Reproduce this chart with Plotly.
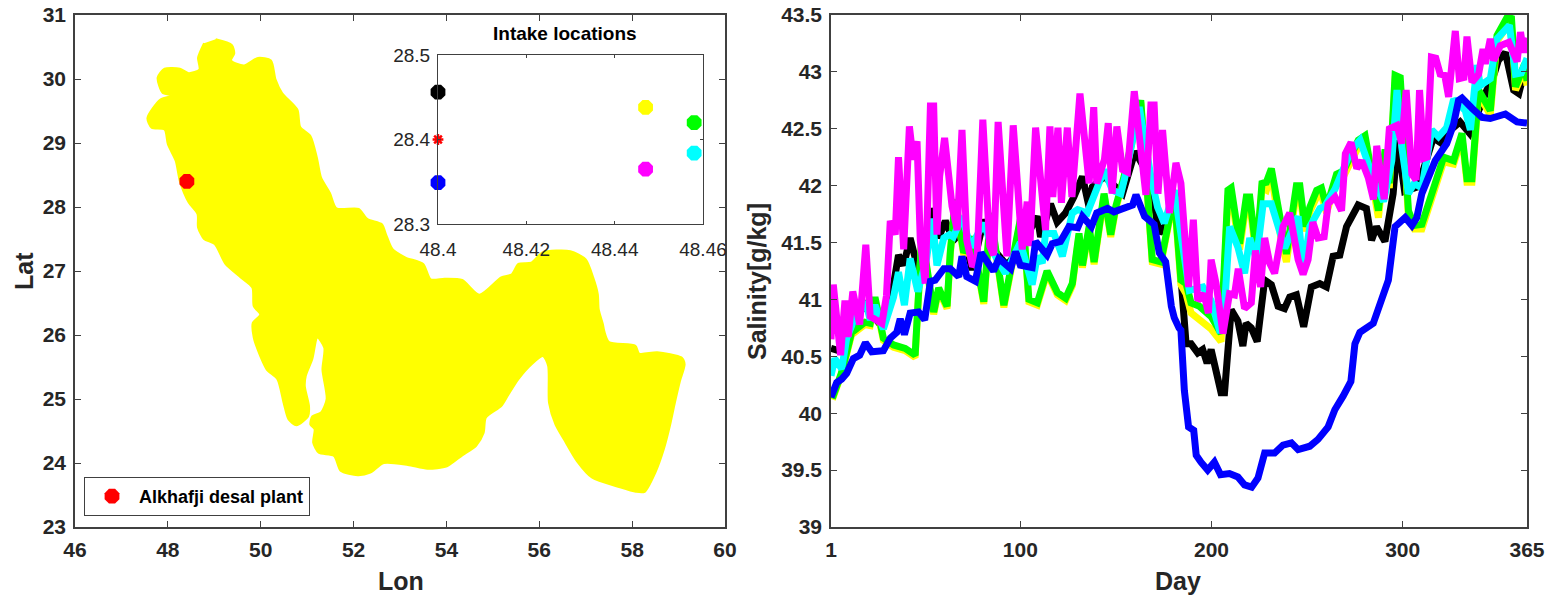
import plotly.graph_objects as go

W, H = 1549, 595

# --- Gulf outline (Lon, Lat)
gulf_lon = [49.03,49.38,49.43,49.36,49.64,49.94,50.22,50.32,50.46,50.79,50.85,51.07,51.21,51.30,51.49,51.63,52.11,52.30,52.61,52.70,52.84,53.12,53.50,53.66,53.96,54.34,54.71,55.18,55.41,55.55,55.83,56.07,56.67,57.00,57.16,57.26,57.28,57.37,57.40,57.50,58.07,58.15,58.54,59.06,59.13,59.03,58.92,58.82,58.68,58.50,58.27,58.08,57.70,57.14,56.81,56.53,56.35,56.21,56.19,56.08,55.83,55.55,55.32,55.18,54.85,54.80,54.64,54.34,54.01,53.59,53.17,52.65,52.36,52.09,51.72,51.58,51.25,51.13,51.16,51.07,51.11,51.30,51.42,51.33,51.37,51.22,51.11,50.97,50.95,51.04,51.02,50.77,50.60,50.50,50.36,50.13,49.99,49.85,49.83,49.99,49.85,49.82,49.57,49.24,49.01,48.78,48.65,48.64,48.45,48.26,48.17,48.00,47.93,47.65,47.56,47.84,48.12,47.89,47.78,47.93,48.26,48.45,48.68,48.65,48.78]
gulf_lat = [30.62,30.53,30.40,30.29,30.21,30.33,30.29,29.99,29.78,29.52,29.25,29.11,28.77,28.46,28.22,27.98,27.97,27.81,27.73,27.57,27.34,27.21,27.11,26.87,26.88,26.86,26.63,26.90,26.95,27.11,27.13,27.29,27.31,27.18,26.90,26.64,26.40,26.17,26.06,25.89,25.83,25.71,25.73,25.65,25.54,25.28,24.94,24.60,24.21,23.85,23.55,23.55,23.63,23.77,24.03,24.37,24.60,24.94,25.52,25.67,25.54,25.31,25.05,24.89,24.71,24.47,24.27,24.12,23.95,23.91,23.97,24.00,23.85,23.81,23.88,24.11,24.16,24.32,24.53,24.60,24.73,24.79,25.00,25.46,25.80,25.96,25.62,25.36,25.20,24.89,24.73,24.59,24.68,24.92,25.31,25.46,25.67,25.96,26.19,26.32,26.45,26.74,26.90,27.11,27.42,27.50,27.68,27.89,28.07,28.40,28.72,28.98,29.21,29.24,29.39,29.68,29.74,29.78,30.02,30.16,30.16,30.09,30.15,30.33,30.56]

plant_lon = [48.41]
plant_lat = [28.40]

# --- Inset: intake locations
intake_lon = [48.400, 48.447, 48.458, 48.458, 48.447, 48.400]
intake_lat = [28.456, 28.438, 28.420, 28.384, 28.365, 28.349]
intake_col = ["#000000", "#ffff00", "#00ff00", "#00ffff", "#ff00ff", "#0000ff"]
outfall_lon = [48.40]
outfall_lat = [28.40]

# --- Salinity series
blue_day = [1,4,6.6,9.2,12.7,16,19,22.3,28.4,32,35.4,37.2,39.4,42.4,46.8,50,53,55.5,60,63.4,67.8,69.5,72,76.5,79.5,86,88.8,95,97.5,100,106.2,108,114,116.7,121,125.5,130,132.5,137.2,140,145.6,149,158.7,160.5,165,170,172.7,176,179,180.5,183,184,185.8,188,190.7,192,194.5,198,201.5,204.7,209.4,213.8,217.3,221,224.3,227.8,233,237.4,241.8,245.3,251.4,255.7,261,264.5,268.8,272.9,275,277.6,284.6,287.2,292.5,296,298.6,301.3,304.8,307.4,310,317,323,326.6,329.2,331,336.2,341.5,345.8,353.7,359.8,365]
blue_val = [40.14,40.27,40.30,40.35,40.48,40.51,40.62,40.54,40.55,40.66,40.71,40.83,40.69,40.88,40.89,40.82,41.16,41.17,41.27,41.27,41.20,41.38,41.20,41.16,41.41,41.25,41.36,41.27,41.42,41.30,41.28,41.51,41.39,41.49,41.51,41.64,41.63,41.73,41.64,41.76,41.80,41.77,41.83,41.92,41.73,41.66,41.41,41.33,40.94,40.84,40.75,40.73,40.20,39.88,39.85,39.63,39.57,39.50,39.57,39.46,39.47,39.44,39.37,39.35,39.43,39.65,39.65,39.72,39.74,39.68,39.71,39.77,39.88,40.03,40.15,40.28,40.61,40.71,40.79,40.92,41.17,41.64,41.68,41.72,41.65,41.72,41.93,42.22,42.37,42.54,42.75,42.77,42.68,42.60,42.59,42.63,42.56,42.55]

magenta_day = [1,2.2,6,8.3,10,12.4,16,19.2,21.5,27.6,30,32,34.6,36.3,39,42,44,46,47.7,50.3,53,54.7,56.4,57.8,60.4,64.3,67,69.5,72,75,77.4,80.4,84,86.1,88.4,93,96.3,101,103.6,105,108,113.2,115.5,117,119.7,121.5,124.6,127,131.2,133.3,136,138.4,140,144,146,148,150.5,153.5,156,159.6,164,165.7,168.3,170,172,174.4,178,181.4,184,188,190.5,192.8,196,198.4,199.8,202.4,206,209.4,212,214,217.3,220.8,223,225.7,227.8,230.4,233,237.4,240.9,245.3,247.9,250.5,253,255.7,258.9,261,264.6,268,270,273,276,278.6,282,284.7,286.4,290.3,293,297,299.5,301.8,304.8,307,308.8,311,312.6,315,317.3,319.6,322,324,327.5,329.6,332,333.6,336.2,339.7,342,343.2,345.8,347.6,351,355.5,359.8,361.6,363.3,365]
magenta_val = [40.65,41.13,40.51,40.99,40.67,41.07,40.78,41.48,40.85,40.79,41.03,41.69,41.57,42.25,41.44,42.52,42.23,42.39,41.52,41.14,42.70,42.70,41.57,42.08,42.42,41.82,41.61,42.49,41.52,41.29,41.35,42.58,41.47,41.39,42.56,41.38,42.53,41.44,41.86,41.47,42.51,41.61,42.52,41.90,42.51,41.85,42.51,41.90,42.81,42.40,42.02,42.69,42.02,42.23,42.55,41.93,42.52,42.14,42.12,42.83,42.17,41.92,42.71,42.71,41.93,42.49,41.76,42.20,42.02,41.11,41.70,40.99,41.05,40.88,41.35,41.14,40.70,41.05,41.04,41.27,40.92,40.97,41.43,41.11,41.54,41.32,41.23,41.64,41.76,41.35,41.22,41.35,41.68,41.54,41.55,41.84,41.90,41.78,42.28,42.38,42.15,42.22,42.07,41.88,42.35,41.88,42.50,42.53,42.37,42.84,42.10,42.05,42.84,42.24,42.25,43.13,43.12,42.98,42.97,42.78,43.36,42.94,42.95,43.31,42.91,42.98,43.20,43.07,43.29,43.10,43.23,43.26,43.09,43.35,43.17,43.30]

black_day = [1,5,9,14,19,24,28,33.7,36.3,39,42.4,46,50,53.4,57.3,60.8,65,70,74.8,80.9,87,93,100,108.9,110.6,115.8,119.3,123.7,128,132.5,136,137.7,144,153.5,160,167.4,172.7,179.7,181.4,184,186.7,189.3,191,192.8,195.4,197.7,199.8,202.4,205,206.8,210.3,213.8,216.4,218.1,220.8,223.9,227.8,231.3,234.8,238.2,240.9,244.4,248.2,252.2,256.6,260.1,263.6,267.1,270.6,276.7,281,283.7,286.3,290.7,295,297.3,301,308,316,319.6,323,330,335,344,346.7,350,353.7,358,360.7,362.4,365]
black_val = [40.57,40.55,40.60,40.85,40.95,40.83,40.75,41.13,41.39,41.30,41.54,41.30,41.36,41.80,41.54,41.69,41.52,41.60,41.26,41.70,41.42,41.30,41.45,41.73,41.55,41.84,41.68,41.76,41.90,42.08,41.81,41.99,42.08,41.93,42.30,42.08,41.58,41.73,41.96,41.20,40.61,40.61,40.58,40.53,40.56,40.44,40.56,40.38,40.18,40.18,40.91,40.81,40.59,40.79,40.75,40.63,41.17,41.13,40.94,40.92,41.02,41.04,40.76,41.11,41.14,41.11,41.38,41.39,41.64,41.83,41.80,41.52,41.64,41.51,41.93,42.40,41.95,41.99,42.42,42.38,42.46,42.56,42.46,42.84,42.92,43.10,43.17,42.84,42.81,42.92,42.95]

cyan_day = [1,3,6.6,9.2,13,19,21.5,24,28.4,32,33.7,36.3,39.4,42.4,46.4,51,54,56.4,60,63,65,69.5,74,80.9,87,92.2,100,106.2,108.9,111.5,113.2,117.6,122,127.2,130,135,137.7,143.9,148.2,152.6,155.2,162.2,168.3,171.8,175.3,180.6,188.4,195.5,199.8,204.2,206,209.5,213.8,217.3,220,223.5,227,231.3,238.3,245.3,248,251.4,256.7,259.3,264.6,269,273,277.7,283,285.5,290,294.3,297,299.5,303,306,310,312.6,315.2,318.7,323,326.6,332.7,335.4,338.8,340.6,345.8,349.3,355.8,359,362,365]
cyan_val = [40.33,40.48,40.39,40.66,40.82,40.98,40.82,40.95,40.74,40.92,41.02,41.24,40.95,41.36,41.07,41.36,41.71,41.30,41.54,41.57,41.55,41.73,41.46,41.67,41.38,41.23,41.50,41.13,41.38,41.32,41.58,41.58,41.38,41.76,41.79,41.76,41.87,42.14,41.96,41.93,42.11,42.69,42.08,41.81,41.67,41.96,41.08,41.11,40.99,40.73,40.73,41.64,41.46,41.23,41.54,41.35,41.84,41.84,41.45,41.73,41.26,41.64,41.80,41.82,41.97,42.15,42.31,42.40,42.15,42.02,41.86,42.22,42.84,42.34,41.93,42.02,41.98,42.22,42.49,42.43,42.51,42.76,42.66,42.49,43.06,42.88,42.94,43.29,43.41,42.98,42.99,43.12]

green_day = [1.7,6.6,11.8,18.8,21.5,24,28.4,33.7,39.8,45,48.5,54.7,57.3,61.7,63.4,66,70.4,74.8,80.9,84.4,91.4,101,104.5,108.9,114,119.4,123.7,127.2,130.7,132.5,136,138.6,143.8,147.3,150,154.3,163,169,173.5,180.5,184,186.7,189.3,193.7,199.8,205,208.6,210.3,214.7,218.2,220,223.5,226.4,228.7,231.3,236.6,239.2,244.4,246.2,248.8,251.4,255,257.5,260.2,265.4,269,276.8,280.3,284.7,287.3,290.8,293,296,298.7,303,306,310,317,321.4,326.6,331,333.6,336.2,339.7,345.8,349.3,354.6,356.9,359,363.8,365]
green_val = [40.13,40.36,40.71,40.80,40.79,41.02,40.66,40.60,40.57,40.51,41.57,40.89,41.10,40.94,41.42,41.88,41.41,41.55,40.98,41.76,40.95,41.79,41.00,40.97,41.25,41.06,41.01,41.14,41.58,41.30,41.64,41.33,41.93,41.57,41.82,42.08,42.75,41.35,41.33,41.93,41.17,41.14,40.97,40.94,40.85,40.70,41.96,41.98,41.49,41.90,41.90,41.40,42.02,42.03,42.15,41.58,41.40,42.00,42.00,41.64,41.81,41.96,41.98,41.81,42.10,42.13,42.40,42.44,42.07,41.78,42.32,42.02,42.97,42.95,41.78,41.65,41.66,42.00,42.25,42.22,42.46,42.06,42.06,42.84,42.66,43.32,43.48,43.47,42.87,43.07,42.92]

yellow_day = green_day
yellow_val = [40.12,40.35,40.69,40.78,40.77,41.00,40.64,40.58,40.55,40.49,41.55,40.87,41.08,40.92,41.40,41.86,41.39,41.53,40.96,41.74,40.93,41.77,40.98,40.95,41.23,41.04,40.99,41.12,41.56,41.28,41.62,41.31,41.91,41.55,41.80,42.06,42.73,41.33,41.31,41.91,41.13,41.05,40.88,40.82,40.74,40.63,41.90,41.92,41.44,41.84,41.84,41.36,41.98,41.96,42.11,41.50,41.33,41.94,41.94,41.60,41.77,41.90,41.92,41.76,42.06,42.08,42.34,42.38,42.01,41.72,42.26,41.98,42.92,42.90,41.72,41.62,41.62,41.96,42.21,42.19,42.42,42.03,42.03,42.80,42.62,43.27,43.40,43.40,42.84,43.03,42.88]

series = [
    ("#000000", black_day, black_val),
    ("#ffff00", yellow_day, yellow_val),
    ("#00ff00", green_day, green_val),
    ("#00ffff", cyan_day, cyan_val),
    ("#ff00ff", magenta_day, magenta_val),
    ("#0000ff", blue_day, blue_val),
]

day_ticks = [1, 100, 200, 300, 365]
sal_ticks = [39, 39.5, 40, 40.5, 41, 41.5, 42, 42.5, 43, 43.5]
lon_ticks = [46, 48, 50, 52, 54, 56, 58, 60]
lat_ticks = [23, 24, 25, 26, 27, 28, 29, 30, 31]

FONT = "Liberation Sans"
INK = "#262626"
AX = "#404040"


def fx(px):
    return px / W


def fy(px):
    return 1 - px / H


def axis(**kw):
    base = dict(showgrid=False, zeroline=False, showline=True, linecolor=AX, linewidth=1.5,
                mirror="allticks", ticks="inside", ticklen=6, tickwidth=1, tickcolor=AX,
                automargin=False, ticklabelstandoff=3,
                tickfont=dict(family=FONT, size=21, color=INK, weight="bold"))
    base.update(kw)
    return base


def label(text, x, y, angle=0, size=25, color=INK):
    return dict(text="<b>%s</b>" % text, x=fx(x), y=fy(y), xref="paper", yref="paper",
                xanchor="center", yanchor="middle", showarrow=False, textangle=angle,
                font=dict(family=FONT, size=size, color=color))


fig = go.Figure()

fig.add_trace(go.Scatter(x=gulf_lon, y=gulf_lat, mode="lines", fill="toself", fillcolor="#ffff00",
                         line=dict(color="#ffff00", width=2, shape="spline", smoothing=0.7),
                         showlegend=False, hoverinfo="skip", xaxis="x", yaxis="y"))
fig.add_trace(go.Scatter(x=plant_lon, y=plant_lat, mode="markers", name="Alkhafji desal plant",
                         marker=dict(symbol="octagon", size=16, color="#ff0000"), xaxis="x", yaxis="y"))

for lon, lat, col in zip(intake_lon, intake_lat, intake_col):
    fig.add_trace(go.Scatter(x=[lon], y=[lat], mode="markers", showlegend=False, cliponaxis=False,
                             marker=dict(symbol="octagon", size=16, color=col), xaxis="x3", yaxis="y3"))
fig.add_trace(go.Scatter(x=outfall_lon, y=outfall_lat, mode="markers", showlegend=False, cliponaxis=False,
                         marker=dict(symbol="asterisk", size=9, line=dict(color="#ff0000", width=2.5)),
                         xaxis="x3", yaxis="y3"))

for col, d, v in series:
    fig.add_trace(go.Scatter(x=d, y=v, mode="lines", showlegend=False,
                             line=dict(color=col, width=7), xaxis="x2", yaxis="y2"))

inset_font = dict(family=FONT, size=19, color=INK)

fig.update_layout(
    width=W, height=H, autosize=False,
    margin=dict(l=0, r=0, t=0, b=0),
    paper_bgcolor="white", plot_bgcolor="white",
    font=dict(family=FONT),
    xaxis=axis(domain=[fx(75), fx(725)], range=[46, 60], tickvals=lon_ticks, anchor="y"),
    yaxis=axis(domain=[fy(527), fy(15)], range=[23, 31], tickvals=lat_ticks, anchor="x"),
    xaxis2=axis(domain=[fx(831), fx(1527)], range=[1, 365], tickvals=day_ticks, anchor="y2"),
    yaxis2=axis(domain=[fy(527), fy(15)], range=[39, 43.5], tickvals=sal_ticks, anchor="x2"),
    xaxis3=axis(domain=[fx(438), fx(703)], range=[48.4, 48.46], tickvals=[48.4, 48.42, 48.44, 48.46],
                ticktext=["48.4", "48.42", "48.44", "48.46"], anchor="y3", ticklen=3, tickfont=inset_font,
                linewidth=1, ticklabelstandoff=8),
    yaxis3=axis(domain=[fy(224), fy(55)], range=[28.3, 28.5], tickvals=[28.3, 28.4, 28.5],
                ticktext=["28.3", "28.4", "28.5"], anchor="x3", ticklen=3, tickfont=inset_font,
                linewidth=1, ticklabelstandoff=3),
    legend=dict(x=fx(84), y=fy(477), xanchor="left", yanchor="top", bgcolor="white",
                bordercolor=AX, borderwidth=1, font=dict(family=FONT, size=18, color="#000000", weight="bold"),
                itemsizing="trace", itemwidth=44, entrywidth=192, entrywidthmode="pixels"),
    annotations=[
        label("Intake locations", 565, 33, size=19, color="#000000"),
        label("Lon", 401, 581),
        label("Lat", 24, 271, angle=-90),
        label("Day", 1178, 581),
        label("Salinity[g/kg]", 757, 282, angle=-90),
    ],
)

fig.write_html("out.html", config={"displayModeBar": False},
               post_script="document.body.style.margin='0';document.body.style.overflow='hidden';")
